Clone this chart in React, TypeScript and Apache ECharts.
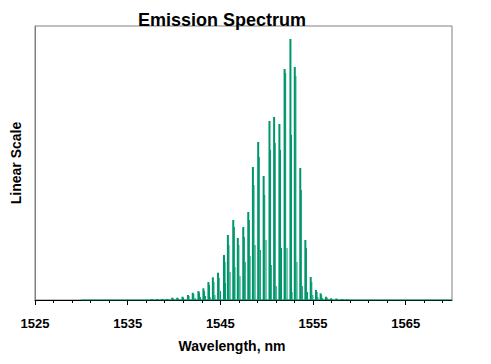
import React, { useEffect, useRef } from "react";
import * as echarts from "echarts";

// Longitudinal mode wavelengths (nm) and their peak intensities (a.u.)
const modeWavelengths = [
  1537.53, 1538.1, 1538.66, 1539.17, 1539.75, 1540.29, 1540.86, 1541.45, 1541.97, 1542.58,
  1543.12, 1543.66, 1544.14, 1544.7, 1545.34, 1545.76, 1546.34, 1546.83, 1547.42, 1547.96,
  1548.46, 1549.03, 1549.62, 1550.25, 1550.75, 1551.32, 1551.88, 1552.51, 1552.98, 1553.57,
  1554.12, 1554.7, 1555.27, 1555.77, 1556.34, 1556.88, 1557.47, 1558.06, 1558.6,
];
const modePeaks = [
  1, 1, 1, 1, 2.3, 2.3, 3.3, 5, 7.3, 9,
  11.7, 18, 22.7, 27.3, 45, 65, 80, 62, 73, 88,
  133, 158, 124, 179, 183, 176, 231, 261, 233, 132,
  60, 23, 10, 6.7, 3.3, 1.7, 1.5, 1, 0.7,
];
// Shoulder just to the long-wavelength side of each mode
const shoulderWavelengths = [
  1537.7, 1538.27, 1538.83, 1539.34, 1539.92, 1540.46, 1541.03, 1541.62, 1542.14, 1542.75,
  1543.29, 1543.83, 1544.31, 1544.87, 1545.51, 1545.93, 1546.51, 1547.0, 1547.59, 1548.13,
  1548.63, 1549.2, 1549.79, 1550.42, 1550.92, 1551.49, 1552.05, 1552.68, 1553.15, 1553.74,
  1554.29, 1554.87, 1555.44, 1555.94, 1556.51, 1557.05, 1557.64, 1558.23, 1558.77,
];
const shoulderPeaks = [
  0.7, 0.7, 0.7, 0.7, 1.8, 1.8, 2.6, 4, 6, 7.5,
  9, 15, 18, 22, 38, 55, 73, 55, 63, 80,
  115, 143, 105, 150, 157, 150, 227, 165, 224, 110,
  52, 18, 8, 5, 2.5, 1.2, 1, 0.7, 0.5,
];
// Weaker side modes between the main modes
const sideWavelengths = [
  1542.28, 1542.85, 1543.39, 1543.9, 1544.42, 1545.02, 1545.55, 1546.05, 1546.58, 1547.12,
  1547.69, 1548.21, 1548.75, 1549.32, 1549.93, 1550.5, 1551.03, 1551.6, 1552.2, 1552.74,
  1553.27, 1553.85, 1554.41, 1554.98, 1555.52, 1556.05, 1556.6,
];
const sidePeaks = [
  2, 3, 4, 3, 5, 9, 17, 28, 33, 24,
  38, 44, 55, 50, 60, 35, 14, 52, 52, 8,
  38, 14, 8, 5, 3, 2, 1.5,
];
const spectrumRange = [1530, 1570];
const majorTicks = [1525, 1535, 1545, 1555, 1565];
const minorTicks = [
  1527, 1529, 1531, 1533, 1537, 1539, 1541, 1543, 1547, 1549, 1551, 1553,
  1557, 1559, 1561, 1563, 1567, 1569,
];

const GREEN = "#00966b";
const FONT = "'Liberation Sans', Arial, sans-serif";

export default function App() {
  const ref = useRef<HTMLDivElement>(null);
  useEffect(() => {
    if (!ref.current) return;
    const chart = echarts.init(ref.current, undefined, { renderer: "svg" });
    const zip = (xs: number[], ys: number[]) => xs.map((x, i) => [x, ys[i]]);
    chart.setOption({
      animation: false,
      backgroundColor: "#ffffff",
      title: {
        text: "Emission Spectrum",
        left: 138,
        top: 11,
        padding: 0,
        textStyle: { fontSize: 18, fontWeight: "bold", color: "#000", fontFamily: FONT },
      },
      grid: {
        left: 35,
        right: 39,
        top: 26,
        bottom: 64,
        show: true,
        borderColor: "#808080",
        borderWidth: 1,
        backgroundColor: "transparent",
      },
      xAxis: [
        {
          type: "value",
          min: 1525,
          max: 1570,
          name: "Wavelength, nm",
          nameLocation: "middle",
          nameGap: 39,
          nameTextStyle: {
            fontSize: 14,
            fontWeight: "bold",
            color: "#000",
            fontFamily: FONT,
            padding: [0, 23, 0, 0],
          },
          axisLine: { show: true, onZero: false, lineStyle: { color: "#000", width: 1 } },
          axisTick: { show: true, length: 5, customValues: majorTicks, lineStyle: { color: "#000" } },
          axisLabel: {
            customValues: majorTicks,
            formatter: (v: number) => String(v),
            margin: 17,
            fontSize: 13,
            fontWeight: "bold",
            color: "#000",
            fontFamily: FONT,
          },
          splitLine: { show: false },
        },
        {
          type: "value",
          min: 1525,
          max: 1570,
          position: "bottom",
          axisLine: { show: false },
          axisTick: { show: true, length: 3, customValues: minorTicks, lineStyle: { color: "#000" } },
          axisLabel: { show: false },
          splitLine: { show: false },
        },
      ],
      yAxis: {
        type: "value",
        min: 0,
        max: 274,
        name: "Linear Scale",
        nameLocation: "middle",
        nameGap: 12,
        nameTextStyle: { fontSize: 14, fontWeight: "bold", color: "#000", fontFamily: FONT },
        axisLine: { show: true, lineStyle: { color: "#808080" } },
        axisTick: { show: false },
        axisLabel: { show: false },
        splitLine: { show: false },
      },
      series: [
        {
          type: "line",
          data: [
            [spectrumRange[0], 0],
            [spectrumRange[1], 0],
          ],
          symbol: "none",
          lineStyle: { color: GREEN, width: 1 },
          silent: true,
        },
        {
          type: "bar",
          data: zip(modeWavelengths, modePeaks),
          barWidth: 2,
          barGap: "-100%",
          itemStyle: { color: GREEN },
        },
        {
          type: "bar",
          data: zip(shoulderWavelengths, shoulderPeaks),
          barWidth: 1,
          barGap: "-100%",
          itemStyle: { color: GREEN },
        },
        {
          type: "bar",
          data: zip(sideWavelengths, sidePeaks),
          barWidth: 1,
          barGap: "-100%",
          itemStyle: { color: GREEN },
        },
      ],
    });
    return () => chart.dispose();
  }, []);
  return (
    <div
      ref={ref}
      style={{ position: "fixed", left: 0, top: 0, width: 491, height: 364, background: "#fff" }}
    />
  );
}
